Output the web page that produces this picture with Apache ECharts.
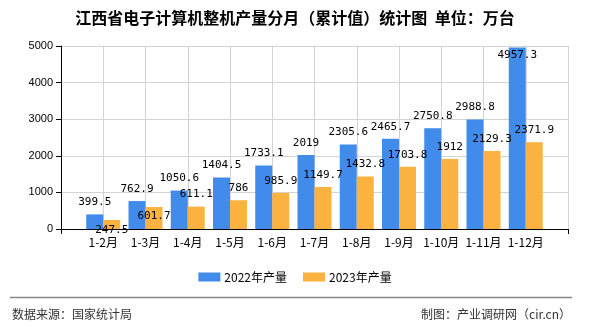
<!DOCTYPE html>
<html>
<head>
<meta charset="utf-8">
<script src="https://cdn.jsdelivr.net/npm/echarts@6/dist/echarts.min.js"></script>
<style>html,body{margin:0;padding:0;background:#fff}#c{width:590px;height:330px}</style>
</head>
<body>
<div id="c"></div>
<script>
var categories = ['1-2月','1-3月','1-4月','1-5月','1-6月','1-7月','1-8月','1-9月','1-10月','1-11月','1-12月'];
var values2022 = [399.5, 762.9, 1050.6, 1404.5, 1733.1, 2019, 2305.6, 2465.7, 2750.8, 2988.8, 4957.3];
var values2023 = [247.5, 601.7, 611.1, 786, 985.9, 1149.7, 1432.8, 1703.8, 1912, 2129.3, 2371.9];
var seriesNames = ['2022年产量', '2023年产量'];
var yTicks = {min: 0, max: 5000, interval: 1000};

// label placement tweaks (style only)
var labelTweak2022 = {10: {position: 'insideTop', distance: 2}};
var labelTweak2023 = {0: {offset: [0, 22]}, 1: {offset: [0, 21]}};

var axisCats = [''].concat(categories).concat(['']);
function build(vals, tweak) {
  var out = [null];
  vals.forEach(function (v, i) {
    if (tweak[i]) out.push({value: v, label: tweak[i]});
    else out.push(v);
  });
  out.push(null);
  return out;
}

var labelStyle = {
  show: true, position: 'top', distance: 6, color: '#000',
  fontFamily: 'DejaVu Sans Mono', fontSize: 11, lineHeight: 12
};

var chart = echarts.init(document.getElementById('c'), null, {renderer: 'canvas'});
chart.setOption({
  animation: false,
  backgroundColor: '#fff',
  title: {
    text: '江西省电子计算机整机产量分月（累计值）统计图  单位：万台',
    left: 'center', top: 9, padding: 0,
    textStyle: {fontSize: 16, fontWeight: 'bold', color: '#000', fontFamily: 'Noto Sans CJK SC', lineHeight: 17}
  },
  legend: {
    data: seriesNames, left: 'center', top: 271, padding: 0,
    itemWidth: 22, itemHeight: 9, itemGap: 16, icon: 'rect',
    textStyle: {fontSize: 12, color: '#000', fontFamily: 'Noto Sans CJK SC', padding: [0, 0, 0, -1]}
  },
  grid: {left: 61, right: 22, top: 46, bottom: 101, containLabel: false},
  xAxis: {
    type: 'category', data: axisCats, boundaryGap: false,
    axisLine: {lineStyle: {color: '#000', width: 1}},
    axisTick: {show: true, length: 5, interval: function (i) { return i === 0 || i === axisCats.length - 1; }, lineStyle: {color: '#000'}},
    axisLabel: {interval: 0, color: '#000', fontSize: 12, margin: 7, fontFamily: 'Noto Sans CJK SC'},
    splitLine: {show: true, interval: 0, lineStyle: {color: '#d3d3d3', width: 1}}
  },
  yAxis: {
    type: 'value', min: yTicks.min, max: yTicks.max, interval: yTicks.interval,
    axisLine: {show: true, lineStyle: {color: '#000', width: 1}},
    axisTick: {show: true, length: 5, lineStyle: {color: '#000'}},
    axisLabel: {color: '#000', fontSize: 11, margin: 8, fontFamily: 'Liberation Sans', formatter: function (v) { return String(v); }},
    splitLine: {show: true, lineStyle: {color: '#d3d3d3', width: 1}}
  },
  series: [
    {name: seriesNames[0], type: 'bar', data: build(values2022, labelTweak2022), barWidth: 17, barGap: '0%',
     itemStyle: {color: '#418BEB'}, label: labelStyle},
    {name: seriesNames[1], type: 'bar', data: build(values2023, labelTweak2023), barWidth: 17, barGap: '0%',
     itemStyle: {color: '#FBB241'}, label: labelStyle}
  ],
  graphic: [
    {type: 'line', shape: {x1: 10, y1: 297.5, x2: 572, y2: 297.5}, style: {stroke: '#888', lineWidth: 1.5}},
    {type: 'text', left: 12, top: 308, style: {text: '数据来源：国家统计局', fill: '#333', font: '12px "Noto Sans CJK SC"'}},
    {type: 'text', right: 19, top: 308, style: {text: '制图：产业调研网（cir.cn）', fill: '#333', font: '12px "Noto Sans CJK SC"'}}
  ]
});
</script>
</body>
</html>
